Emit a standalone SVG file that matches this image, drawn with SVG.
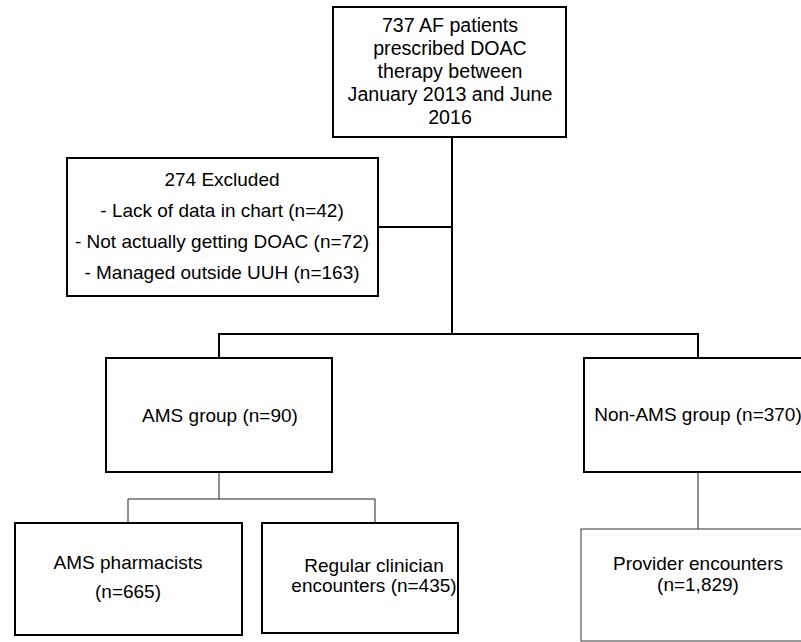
<svg xmlns="http://www.w3.org/2000/svg" width="801" height="642" viewBox="0 0 801 642">
<style>
.box{fill:#fff;stroke:#000;stroke-width:2}
.tbox{fill:#fff;stroke:#333;stroke-width:1}
.c{fill:none;stroke:#000;stroke-width:2}
.ct{fill:none;stroke:#222;stroke-width:1}
text{font-family:"Liberation Sans",Arial,sans-serif;font-size:19px;fill:#000;text-anchor:middle}
.big{font-size:19.6px}
</style>
<rect width="801" height="642" fill="#fff"/>
<g id="connectors">
<path class="c" d="M452 137V334M378 227H452M219 358V334H698V358"/>
<path class="ct" d="M219 472V499M128 523V499H375V523M698 472V529"/>
</g>
<g id="n-start">
<rect class="box" x="333" y="7" width="233" height="130"/>
<text class="big" x="450" y="32">737 AF patients</text>
<text class="big" x="450" y="55">prescribed DOAC</text>
<text class="big" x="450" y="78">therapy between</text>
<text class="big" x="450" y="101">January 2013 and June</text>
<text class="big" x="450" y="124">2016</text>
</g>
<g id="n-excluded">
<rect class="box" x="67" y="158" width="311" height="138"/>
<text x="222" y="186">274 Excluded</text>
<text x="222" y="217">- Lack of data in chart (n=42)</text>
<text x="222" y="248">- Not actually getting DOAC (n=72)</text>
<text x="222" y="279">- Managed outside UUH (n=163)</text>
</g>
<g id="n-ams">
<rect class="box" x="106" y="358" width="226" height="114"/>
<text x="220" y="422">AMS group (n=90)</text>
</g>
<g id="n-nonams">
<rect class="box" x="584" y="358" width="232" height="114"/>
<text x="698" y="421">Non-AMS group (n=370)</text>
</g>
<g id="n-pharm">
<rect class="box" x="15" y="523" width="227" height="112"/>
<text x="128" y="569">AMS pharmacists</text>
<text x="128" y="598">(n=665)</text>
</g>
<g id="n-regular">
<rect class="box" x="262" y="523" width="196" height="110"/>
<text x="374" y="572">Regular clinician</text>
<text x="374" y="592">encounters (n=435)</text>
</g>
<g id="n-provider">
<rect class="tbox" x="581" y="529" width="235" height="112"/>
<text x="698" y="570">Provider encounters</text>
<text x="698" y="591">(n=1,829)</text>
</g>
</svg>
